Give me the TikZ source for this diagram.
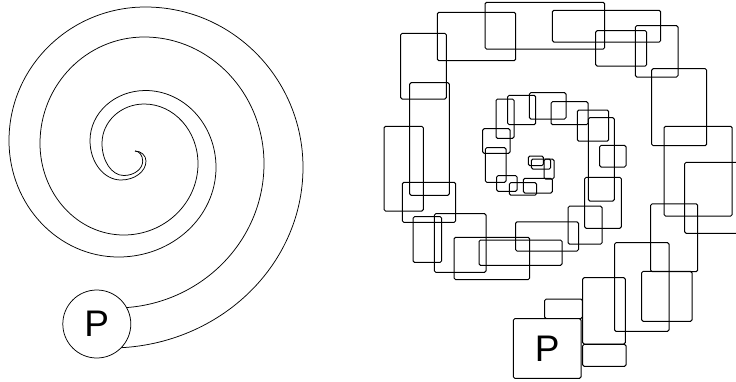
\documentclass[tikz,border=0pt]{standalone}
\usepackage{fontspec}
\setmainfont{Liberation Sans}
\begin{document}
\begin{tikzpicture}[x=1pt,y=1pt,yscale=-1,
  box/.style={draw, line width=1pt, rounded corners=1.5pt},
  spiralline/.style={draw, line width=0.75pt},
  pcirc/.style={circle, draw, line width=0.75pt, fill=white, inner sep=0pt, minimum size=68pt, font=\fontsize{37}{40}\selectfont},
  pbox/.style={rectangle, draw, line width=1pt, rounded corners=1.5pt, fill=white, inner sep=0pt, minimum width=67.7pt, minimum height=59.6pt, font=\fontsize{37}{40}\selectfont}]
\useasboundingbox (0,0) rectangle (736,381);
% left spiral, outer strand
\draw[spiralline] (135,151)
  arc[start angle=270,end angle=360,x radius=11,y radius=10]
  arc[start angle=0,end angle=90,x radius=25,y radius=19]
  arc[start angle=90,end angle=180,x radius=31,y radius=39.4]
  arc[start angle=180,end angle=270,x radius=55.4,y radius=50.1]
  arc[start angle=270,end angle=360,x radius=70.6,y radius=76.9]
  arc[start angle=0,end angle=90,x radius=97.4,y radius=89.6]
  arc[start angle=90,end angle=180,x radius=109.6,y radius=116.4]
  arc[start angle=180,end angle=270,x radius=136.4,y radius=133.6]
  arc[start angle=270,end angle=360,x radius=157.6,y radius=160.4]
  arc[start angle=0,end angle=90,x radius=193,y radius=180.6];
% left spiral, inner strand
\draw[spiralline] (135,151)
  arc[start angle=270,end angle=360,x radius=7.7,y radius=10]
  arc[start angle=0,end angle=90,x radius=18.9,y radius=14.5]
  arc[start angle=90,end angle=180,x radius=21.8,y radius=32.2]
  arc[start angle=180,end angle=270,x radius=42.2,y radius=39.3]
  arc[start angle=270,end angle=360,x radius=53.8,y radius=59.7]
  arc[start angle=0,end angle=90,x radius=74.2,y radius=71.3]
  arc[start angle=90,end angle=180,x radius=83.8,y radius=91.7]
  arc[start angle=180,end angle=270,x radius=104.2,y radius=106.3]
  arc[start angle=270,end angle=360,x radius=119.8,y radius=126.7]
  arc[start angle=0,end angle=90,x radius=149,y radius=144.3];
\node[pcirc] (P1) at (96.8,324) {P};
% right spiral of boxes
\draw[box] (485,2.3) rectangle (604.7,49);
\draw[box] (437.3,12.3) rectangle (515.7,60.7);
\draw[box] (552.3,10.3) rectangle (660.7,42);
\draw[box] (595.7,30.7) rectangle (646.7,66);
\draw[box] (635.3,25.7) rectangle (678,77);
\draw[box] (400.7,33.3) rectangle (446.3,99);
\draw[box] (409.7,82.7) rectangle (449.3,195.3);
\draw[box] (384,126.3) rectangle (423.3,211);
\draw[box] (402.3,182.3) rectangle (455.7,222.3);
\draw[box] (413,216.7) rectangle (441.7,262.3);
\draw[box] (434.3,213.7) rectangle (486,272.3);
\draw[box] (454,237.3) rectangle (529.7,279.5);
\draw[box] (479,240) rectangle (562,265.3);
\draw[box] (515.5,221.8) rectangle (578.5,251);
\draw[box] (568,206.2) rectangle (602,244.2);
\draw[box] (584.7,177.3) rectangle (621.3,228.3);
\draw[box] (588.3,117.7) rectangle (614.3,201);
\draw[box] (599.7,145.3) rectangle (626,167);
\draw[box] (577.3,110) rectangle (608.7,141.2);
\draw[box] (551,101.7) rectangle (588,124.7);
\draw[box] (529.3,92.7) rectangle (566,119);
\draw[box] (507.7,95.3) rectangle (535.7,124.7);
\draw[box] (496,99) rectangle (514,138.3);
\draw[box] (482.7,128.7) rectangle (510,153.3);
\draw[box] (485.3,147.7) rectangle (506,182.3);
\draw[box] (496.7,175.5) rectangle (517,191.3);
\draw[box] (509.3,182.7) rectangle (536.5,195.2);
\draw[box] (523.3,178.3) rectangle (552.3,193);
\draw[box] (544,159.2) rectangle (554,179);
\draw[box] (531.3,159) rectangle (550.7,169);
\draw[box] (528.3,156) rectangle (543.3,165.7);
\draw[box] (651.7,68.7) rectangle (706.7,145.7);
\draw[box] (664,126.3) rectangle (732.2,216);
\draw[box] (684.7,162.3) rectangle (745,233.3);
\draw[box] (650.7,203.8) rectangle (697.7,271.7);
\draw[box] (641.7,271.3) rectangle (692,321.3);
\draw[box] (614.5,242.7) rectangle (669,331.3);
\draw[box] (582.7,277.7) rectangle (625.3,344);
\draw[box] (544.7,299) rectangle (582.3,318.5);
\draw[box] (582.7,344.3) rectangle (626,366.3);
\node[pbox] (P2) at (547.15,348.5) {P};
\end{tikzpicture}
\end{document}
